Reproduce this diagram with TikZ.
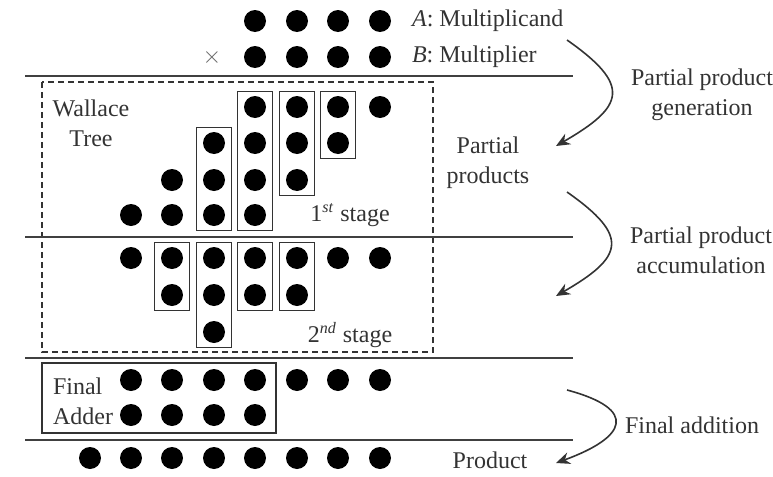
\documentclass[tikz,border=0pt]{standalone}
\usepackage{fontspec}
\setmainfont{Liberation Serif}
\usetikzlibrary{fit,arrows.meta}

\tikzset{
  dot/.style={circle,fill=black,inner sep=0pt,minimum size=11pt},
  grp/.style={draw=black!80,line width=0.6pt,inner xsep=3pt,inner ysep=2pt},
  sep/.style={draw=black!75,line width=0.8pt},
  lbl/.style={font=\fontsize{12}{15}\selectfont,text=black!80},
  flow/.style={draw=black!80,line width=0.8pt,-{Stealth[length=7pt,width=6pt]}},
}

\begin{document}
\begin{tikzpicture}[x=0.5pt,y=-0.5pt]
\useasboundingbox (0,0) rectangle (773,477);
% operands
\node[dot] (a0) at (380,21) {};
\node[dot] (a1) at (338,21) {};
\node[dot] (a2) at (297,21) {};
\node[dot] (a3) at (255,21) {};
\node[dot] (b0) at (380,57) {};
\node[dot] (b1) at (338,57) {};
\node[dot] (b2) at (297,57) {};
\node[dot] (b3) at (255,57) {};
\node[lbl,text=black!60] (times) at (212,57) {$\times$};
\node[lbl,anchor=west] (mcand) at (405,21) {\textit{A}: Multiplicand};
\node[lbl,anchor=west] (mplier) at (405,57) {\textit{B}: Multiplier};
\draw[sep] (25,76) -- (573,76);
% wallace tree, 1st stage
\draw[draw=black!80,line width=0.6pt,dash pattern=on 3pt off 2pt] (42,82) rectangle (433,352);
\node[lbl,align=center] (wt) at (91,123) {Wallace\\Tree};
\node[dot] (p1k0) at (380,107) {};
\node[dot] (p1k1) at (338,107) {};
\node[dot] (p1k2) at (297,107) {};
\node[dot] (p1k3) at (255,107) {};
\node[dot] (p2k1) at (338,143) {};
\node[dot] (p2k2) at (297,143) {};
\node[dot] (p2k3) at (255,143) {};
\node[dot] (p2k4) at (214,143) {};
\node[dot] (p3k2) at (297,180) {};
\node[dot] (p3k3) at (255,180) {};
\node[dot] (p3k4) at (214,180) {};
\node[dot] (p3k5) at (172,180) {};
\node[dot] (p4k3) at (255,215) {};
\node[dot] (p4k4) at (214,215) {};
\node[dot] (p4k5) at (172,215) {};
\node[dot] (p4k6) at (131,215) {};
\node[grp,fit=(p1k1) (p2k1)] (g1k1) {};
\node[grp,fit=(p1k2) (p3k2)] (g1k2) {};
\node[grp,fit=(p1k3) (p4k3)] (g1k3) {};
\node[grp,fit=(p2k4) (p4k4)] (g1k4) {};
\node[lbl] (st1) at (350,215) {1\textsuperscript{\textit{st}} stage};
\node[lbl,align=center] (pp) at (488,163) {Partial\\products};
\draw[sep,line width=0.6pt] (25,237) -- (573,237);
% 2nd stage
\node[dot] (q1k0) at (380,258) {};
\node[dot] (q1k1) at (338,258) {};
\node[dot] (q1k2) at (297,258) {};
\node[dot] (q1k3) at (255,258) {};
\node[dot] (q1k4) at (214,258) {};
\node[dot] (q1k5) at (172,258) {};
\node[dot] (q1k6) at (131,258) {};
\node[dot] (q2k2) at (297,295) {};
\node[dot] (q2k3) at (255,295) {};
\node[dot] (q2k4) at (214,295) {};
\node[dot] (q2k5) at (172,295) {};
\node[dot] (q3k4) at (214,332) {};
\node[grp,fit=(q1k2) (q2k2)] (g2k2) {};
\node[grp,fit=(q1k3) (q2k3)] (g2k3) {};
\node[grp,fit=(q1k4) (q3k4)] (g2k4) {};
\node[grp,fit=(q1k5) (q2k5)] (g2k5) {};
\node[lbl] (st2) at (350,335) {2\textsuperscript{\textit{nd}} stage};
\draw[sep] (25,358) -- (573,358);
% final adder
\node[dot] (r1k0) at (380,380) {};
\node[dot] (r1k1) at (338,380) {};
\node[dot] (r1k2) at (297,380) {};
\node[dot] (r1k3) at (255,380) {};
\node[dot] (r1k4) at (214,380) {};
\node[dot] (r1k5) at (172,380) {};
\node[dot] (r1k6) at (131,380) {};
\node[dot] (r2k3) at (255,415) {};
\node[dot] (r2k4) at (214,415) {};
\node[dot] (r2k5) at (172,415) {};
\node[dot] (r2k6) at (131,415) {};
\node[lbl,align=left,anchor=west] (fadder) at (46,401) {Final\\Adder};
\draw[draw=black!80,line width=0.7pt] (42,363) rectangle (276,433);
\draw[sep] (25,440) -- (573,440);
% product
\node[dot] (s0) at (380,458) {};
\node[dot] (s1) at (338,458) {};
\node[dot] (s2) at (297,458) {};
\node[dot] (s3) at (255,458) {};
\node[dot] (s4) at (214,458) {};
\node[dot] (s5) at (172,458) {};
\node[dot] (s6) at (131,458) {};
\node[dot] (s7) at (90,458) {};
\node[lbl] (prod) at (490,460) {Product};
% phases
\node[lbl,align=center] (ppgen) at (702,95) {Partial product\\generation};
\node[lbl,align=center] (ppacc) at (701,250) {Partial product\\accumulation};
\node[lbl,anchor=west] (fadd) at (618,425) {Final addition};
\coordinate (f1s) at (567,40);
\coordinate (f1e) at (556,146);
\coordinate (f2s) at (567,192);
\coordinate (f2e) at (556,296);
\coordinate (f3s) at (567,390);
\coordinate (f3e) at (556,463);
\draw[flow] (f1s) to[out=-35,in=30,looseness=1.9] (f1e);
\draw[flow] (f2s) to[out=-35,in=30,looseness=1.9] (f2e);
\draw[flow] (f3s) to[out=-15,in=20,looseness=2.6] (f3e);
\end{tikzpicture}
\end{document}
